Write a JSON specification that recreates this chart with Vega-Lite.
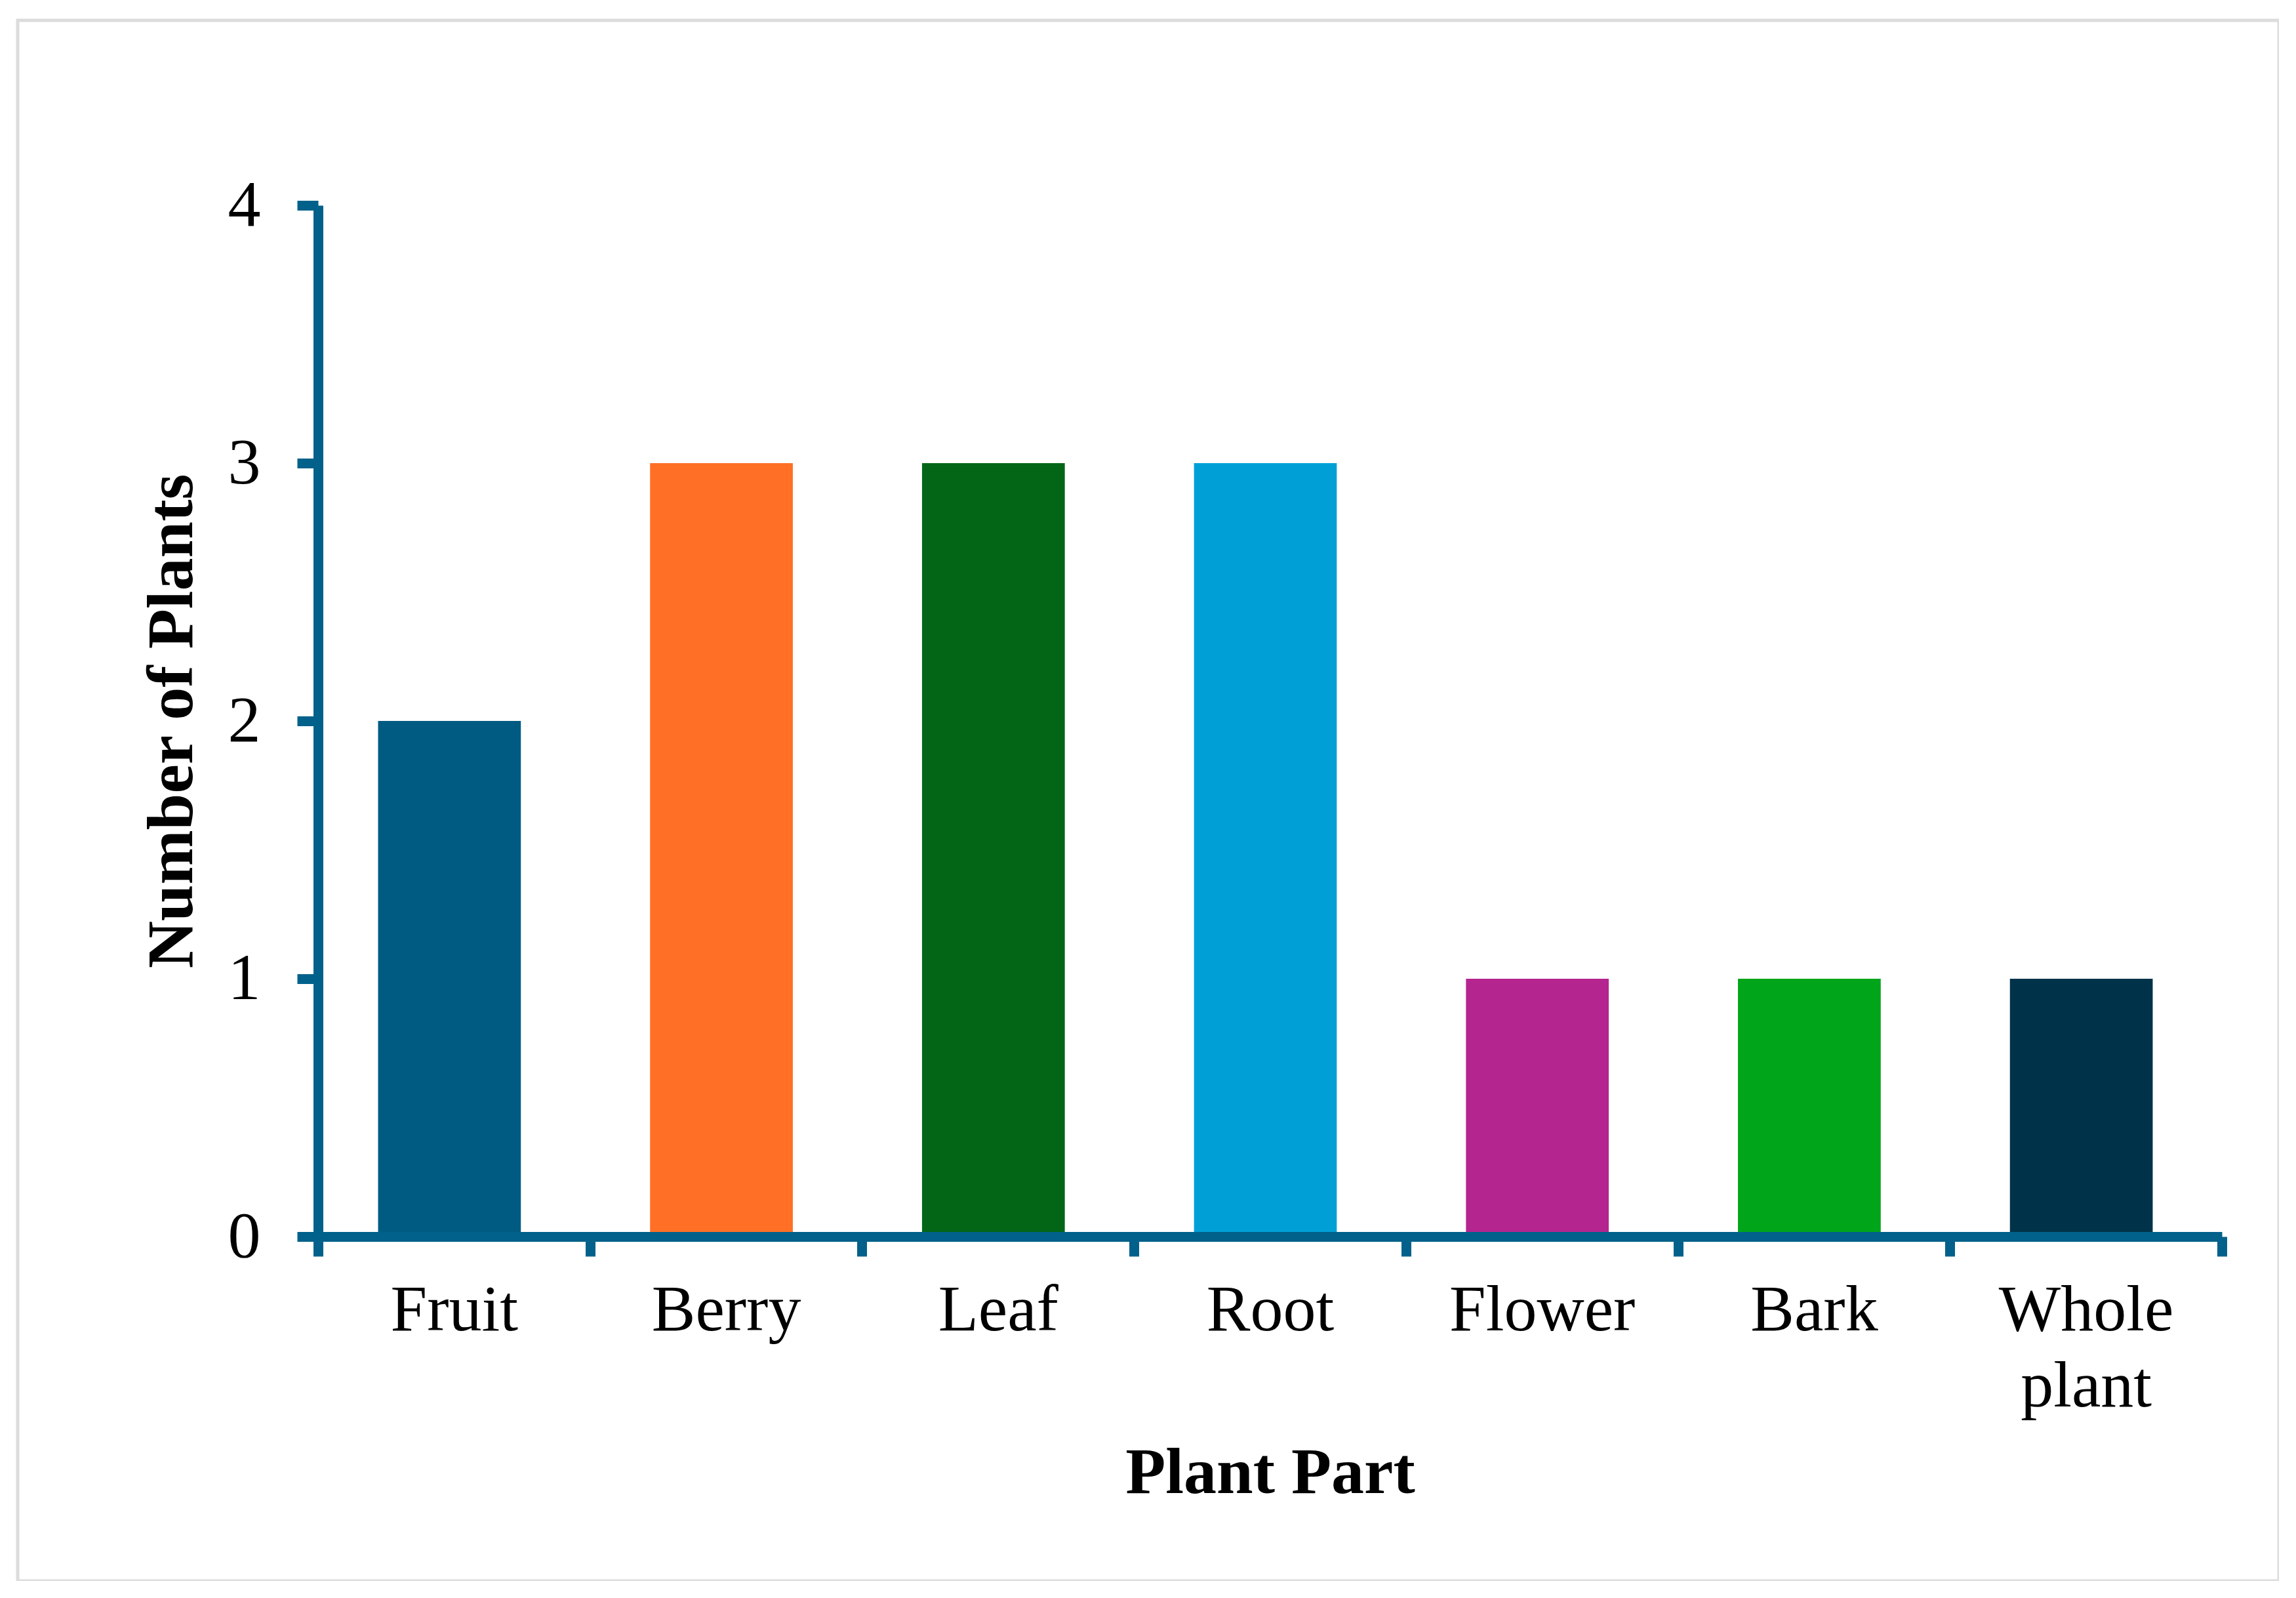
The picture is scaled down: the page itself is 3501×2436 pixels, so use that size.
{
  "$schema": "https://vega.github.io/schema/vega-lite/v6.json",
  "width": 3448,
  "height": 2379,
  "padding": {"left": 27, "top": 31, "right": 0, "bottom": 0},
  "autosize": {"type": "pad"},
  "background": "white",
  "config": {
    "view": {"stroke": "#DCDCDC", "strokeWidth": 5},
    "font": "Liberation Serif"
  },
  "data": {
    "values": [
      {"part": "Fruit", "count": 2},
      {"part": "Berry", "count": 3},
      {"part": "Leaf", "count": 3},
      {"part": "Root", "count": 3},
      {"part": "Flower", "count": 1},
      {"part": "Bark", "count": 1},
      {"part": "Whole plant", "count": 1}
    ]
  },
  "mark": {"type": "bar", "width": {"band": 0.525}, "xOffset": -7},
  "encoding": {
    "x": {
      "field": "part",
      "type": "nominal",
      "sort": null,
      "scale": {"range": [458, 3361], "paddingInner": 0, "paddingOuter": 0},
      "axis": {
        "title": "Plant Part",
        "labelAngle": 0,
        "tickBand": "extent",
        "domainColor": "#01618A",
        "domainWidth": 15,
        "tickColor": "#01618A",
        "tickWidth": 15,
        "tickSize": 30,
        "labelPadding": 33,
        "labelFont": "Liberation Serif",
        "labelFontSize": 100,
        "labelColor": "black",
        "labelLimit": 2000,
        "labelOverlap": false,
        "labelLineHeight": 116,
        "labelExpr": "datum.label == 'Whole plant' ? ['Whole', 'plant'] : datum.label",
        "titleFont": "Liberation Serif",
        "titleFontSize": 100,
        "titleFontWeight": "bold",
        "titleColor": "black",
        "titlePadding": 111,
        "offset": -525,
        "zindex": 1
      }
    },
    "y": {
      "field": "count",
      "type": "quantitative",
      "scale": {"domain": [0, 4], "range": [1854, 282], "nice": false},
      "axis": {
        "title": "Number of Plants",
        "values": [0, 1, 2, 3, 4],
        "format": "d",
        "grid": false,
        "domainColor": "#01618A",
        "domainWidth": 15,
        "tickColor": "#01618A",
        "tickWidth": 15,
        "tickSize": 32,
        "labelPadding": 56,
        "labelFont": "Liberation Serif",
        "labelFontSize": 100,
        "labelColor": "black",
        "titleFont": "Liberation Serif",
        "titleFontSize": 100,
        "titleFontWeight": "bold",
        "titleColor": "black",
        "titlePadding": 34,
        "offset": -458,
        "zindex": 1
      }
    },
    "color": {
      "field": "part",
      "type": "nominal",
      "sort": null,
      "scale": {
        "domain": ["Fruit", "Berry", "Leaf", "Root", "Flower", "Bark", "Whole plant"],
        "range": ["#005B82", "#FF7026", "#036617", "#00A0D6", "#B5258F", "#00A51A", "#003349"]
      },
      "legend": null
    }
  }
}
